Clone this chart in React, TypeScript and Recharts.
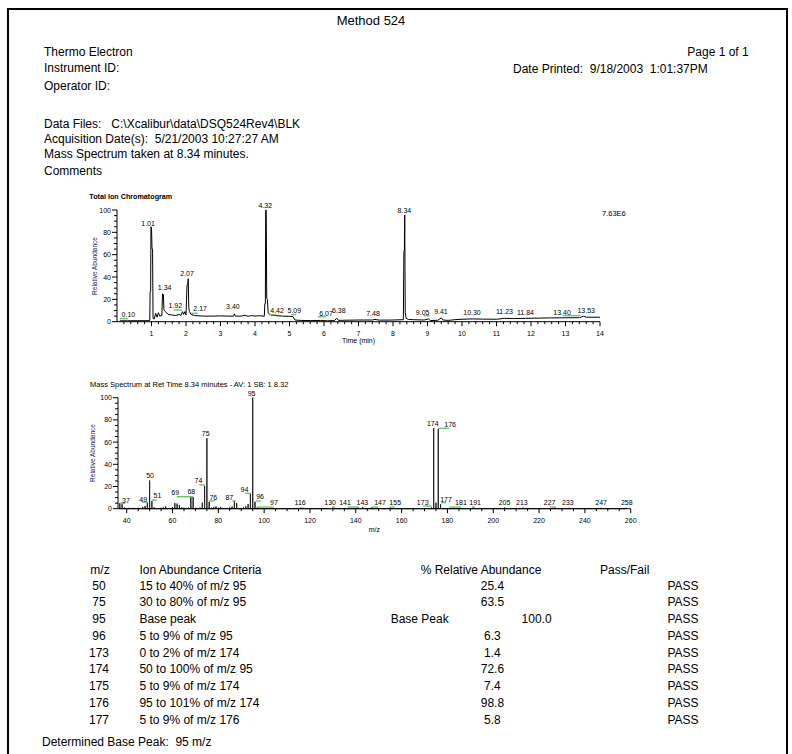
import React from 'react';
import { ComposedChart, Line, Scatter, XAxis, YAxis, ReferenceLine } from 'recharts';

const FONT = '"Liberation Sans", Arial, Helvetica, sans-serif';
const GREEN = '#6cc46c';
const NAVY = '#1b1b6b';

// ---- Total Ion Chromatogram (relative abundance vs time) ----
const ticTime = [
  0.08, 0.3, 0.6, 0.9, 0.95, 0.96, 0.975, 0.985, 1.0, 1.015, 1.03, 1.045, 1.08, 1.12, 1.16, 1.2, 1.24, 1.3,
  1.32, 1.345, 1.36, 1.4, 1.45, 1.5, 1.6, 1.7, 1.8, 1.85, 1.9, 1.93, 1.97, 2.0, 2.03, 2.05, 2.065, 2.08, 2.1,
  2.15, 2.25, 2.5, 2.8, 3.0, 3.2, 3.38, 3.4, 3.43, 3.6, 3.7, 3.8, 3.9, 4.0, 4.1, 4.27, 4.285, 4.3, 4.31,
  4.325, 4.34, 4.36, 4.38, 4.45, 4.6, 4.8, 5.0, 5.1, 5.16, 5.3, 5.6, 5.9, 6.1, 6.3, 6.37, 6.42, 6.6, 7.0,
  7.4, 7.48, 7.6, 8.0, 8.3, 8.315, 8.33, 8.34, 8.355, 8.38, 8.45, 8.6, 8.9, 9.03, 9.08, 9.3, 9.4, 9.45,
  9.6, 9.8, 10.0, 10.3, 10.6, 11.0, 11.23, 11.5, 11.84, 12.2, 12.6, 13.0, 13.4, 13.53, 13.6, 14.0,
];
const ticAbundance = [
  0.8, 0.8, 0.9, 0.9, 1.2, 27, 27, 85, 84, 65, 65, 3, 2.5, 7.5, 4, 8, 5, 5.5,
  25, 24, 11, 9, 7.5, 6.5, 6, 5.5, 6.5, 5.5, 9, 6.5, 9, 6, 33, 33, 38.5, 13, 9,
  6.5, 5.5, 5, 5, 5.2, 5, 5, 7, 5, 5, 5.8, 4.8, 5.5, 5, 5.3, 5, 16, 16, 99.5,
  100, 21, 20, 8, 6, 5.5, 5, 4.8, 4.5, 1.5, 1.2, 1, 1.1, 0.8, 1, 3, 1.2, 1.3, 1.5,
  1.5, 2, 1.4, 1.5, 1.8, 63, 63, 95.5, 8, 3, 2, 1.8, 1.5, 2.5, 1, 1.3, 3.5, 1.5,
  1.2, 1.8, 2.2, 2.5, 2.3, 2.2, 3, 2.8, 3, 3.2, 3.4, 3.5, 3.6, 5, 4, 4,
];
const ticPeakText = [
  '0.10', '1.01', '1.34', '1.92', '2.07', '2.17', '3.40', '4.32', '4.42', '5.09', '6.07',
  '6.38', '7.48', '8.34', '9.05', '9.41', '10.30', '11.23', '11.84', '13.40', '13.53',
];
const ticPeakTime = [
  0.33, 0.9, 1.38, 1.69, 2.03, 2.41, 3.36, 4.3, 4.64, 5.14, 6.06,
  6.43, 7.42, 8.33, 8.86, 9.39, 10.29, 11.23, 11.84, 12.9, 13.6,
];
const ticPeakLevel = [
  2.4, 83.5, 26.3, 9.8, 38.5, 7.5, 8.9, 99.5, 5.3, 5.3, 3.0,
  5.3, 3.0, 95, 3.5, 4.5, 4.0, 4.5, 4.0, 4.0, 5.3,
];
// green integration marks: [from, to, level]
const ticMarks = [
  [0.08, 0.32, 2.7], [1.64, 1.89, 10.5], [2.15, 2.34, 7.5], [4.4, 4.61, 6.3],
  [5.05, 5.19, 6.3], [5.82, 6.06, 4.5], [8.89, 9.06, 5.4], [12.92, 13.42, 5.4],
];
const ticTickLabels = [1, 2, 3, 4, 5, 6, 7, 8, 9, 10, 11, 12, 13, 14];

// ---- Mass spectrum at 8.34 min ----
const msMz = [
  37, 38, 39, 41, 42, 43, 44, 45, 47, 48, 49, 50, 51, 52, 53, 55, 56, 57, 58, 60, 61, 62, 63, 64, 65,
  67, 68, 69, 70, 72, 73, 74, 75, 76, 77, 78, 79, 80, 81, 82, 84, 85, 86, 87, 88, 89, 91, 92, 93, 94,
  95, 96, 97, 98, 101, 104, 106, 109, 113, 116, 117, 118, 124, 128, 130, 131, 137, 139, 141, 142, 143,
  144, 147, 149, 151, 155, 156, 160, 163, 166, 170, 173, 174, 175, 176, 177, 178, 181, 183, 186, 191,
  193, 196, 200, 205, 210, 213, 216, 223, 227, 228, 229, 233, 236, 240, 243, 247, 248, 250, 253, 256, 258,
];
const msAbundance = [
  5, 4, 1.2, 0.8, 0.5, 0.7, 0.6, 0.8, 1.5, 2.5, 5.5, 25.4, 6.8, 1.2, 0.6, 0.8, 1.2, 2.2, 0.6, 1.5, 5, 4.6, 3.2, 1.2, 0.8,
  1, 11, 10.5, 0.7, 1, 5.5, 20.5, 63.5, 6.2, 1, 1.6, 2.2, 0.8, 1.6, 0.7, 0.6, 1.2, 2, 7.5, 5, 0.6, 1.2, 2.2, 4.2, 13.3,
  100, 6.3, 1.2, 0.5, 0.5, 0.8, 0.4, 0.5, 0.4, 1, 0.8, 0.5, 0.5, 0.4, 1.2, 0.5, 0.5, 0.6, 1.2, 0.6, 1.5,
  0.5, 1.2, 0.5, 0.4, 1, 0.5, 0.5, 0.4, 0.6, 0.4, 1.0, 72.6, 5.4, 71.7, 4.2, 0.5, 0.8, 0.4, 0.4, 1,
  0.3, 0.4, 0.3, 1, 0.4, 1, 0.4, 0.3, 1, 0.5, 0.5, 0.8, 0.4, 0.4, 0.4, 0.8, 0.5, 0.5, 0.4, 0.4, 0.8,
];
const msPeakText = [
  '37', '49', '50', '51', '69', '68', '74', '75', '76', '87', '94', '95', '96', '97', '116', '130',
  '141', '143', '147', '155', '173', '174', '176', '177', '181', '191', '205', '213', '227', '233', '247', '258',
];
const msPeakMz = [
  39.7, 47.2, 50.2, 53.4, 61.2, 68.2, 71.3, 74.5, 77.8, 84.8, 91.4, 94.5, 98.2, 104.3, 115.7, 128.8,
  135.3, 142.9, 150.6, 157.2, 169.2, 173.6, 181.2, 179.4, 185.9, 192.1, 204.9, 212.5, 224.6, 232.6, 247.1, 258.3,
];
const msPeakLevel = [
  3.3, 4.2, 25.5, 7.2, 9.9, 10.8, 20.5, 63.5, 5.8, 6.0, 13, 99.5, 6.3, 1.3, 1.0, 1.0,
  1.0, 1.3, 1.0, 1.0, 1.5, 72.5, 71.5, 4.1, 1.0, 1.0, 1.0, 1.0, 1.0, 1.0, 1.0, 1.0,
];
const msMarks = [
  [37, 39.3, 4.9], [46.5, 49, 6], [50.9, 53.1, 7.8], [61.8, 69, 10.8], [71.6, 74.2, 21.4],
  [75.9, 78.5, 7], [86.1, 87.3, 7], [91.7, 94.2, 13.9], [96.4, 98.5, 7], [97, 104, 1.5],
  [130, 131, 1.5], [136.5, 141.1, 1.5], [147, 149.7, 1.5], [155, 157, 1.5], [169.4, 173.2, 2.4],
  [176, 180.7, 72.4], [177.3, 179.4, 5.4], [181, 185.9, 1.5], [190.8, 192.1, 1.5], [224.8, 227.3, 1.5],
];
const msTickLabels = [40, 60, 80, 100, 120, 140, 160, 180, 200, 220, 240, 260];

// ---- ion abundance criteria ----
const critMz = ['50', '75', '95', '96', '173', '174', '175', '176', '177'];
const critText = [
  '15 to 40% of m/z 95', '30 to 80% of m/z 95', 'Base peak', '5 to 9% of m/z 95', '0 to 2% of m/z 174',
  '50 to 100% of m/z 95', '5 to 9% of m/z 174', '95 to 101% of m/z 174', '5 to 9% of m/z 176',
];
const critValue = ['25.4', '63.5', '100.0', '6.3', '1.4', '72.6', '7.4', '98.8', '5.8'];
const critResult = ['PASS', 'PASS', 'PASS', 'PASS', 'PASS', 'PASS', 'PASS', 'PASS', 'PASS'];

const ticData = ticTime.map((t, i) => ({ x: t, y: ticAbundance[i] }));
const ticLabels = ticPeakText.map((text, i) => ({ x: ticPeakTime[i], y: ticPeakLevel[i], text }));
// each stick goes baseline -> top -> baseline
const msData = msMz.flatMap((m, i) => [
  { x: m, y: 0 },
  { x: m, y: msAbundance[i] },
  { x: m, y: 0 },
]);
const msLabels = msPeakText.map((text, i) => ({ x: msPeakMz[i], y: msPeakLevel[i], text }));

const yTicks = Array.from({ length: 21 }, (_, i) => i * 5);
const ticTicks = Array.from({ length: 70 }, (_, i) => +((i + 1) * 0.2).toFixed(1));
const msTicks = Array.from({ length: 45 }, (_, i) => 40 + i * 5);

function AbundanceTick(props: any) {
  const { x, y, payload } = props;
  const v = payload.value;
  const major = v % 20 === 0;
  return (
    <g>
      <line x1={x - (major ? 5 : 3)} x2={x} y1={y} y2={y} stroke="#000" strokeWidth={1} />
      {major && (
        <text x={x - 6} y={y + 2.5} textAnchor="end" fontSize={7} fontFamily={FONT} fill="#000">
          {v}
        </text>
      )}
    </g>
  );
}

function makeXTick(labels: number[]) {
  return (props: any) => {
    const { x, y, payload } = props;
    const v = payload.value;
    const major = labels.some((l) => Math.abs(l - v) < 1e-6);
    return (
      <g>
        <line x1={x} x2={x} y1={y} y2={y + (major ? 4.5 : 2.5)} stroke="#000" strokeWidth={1} />
        {major && (
          <text x={x} y={y + 14} textAnchor="middle" fontSize={7} fontFamily={FONT} fill="#000">
            {Math.round(v)}
          </text>
        )}
      </g>
    );
  };
}

const PeakLabel = (p: any) => (
  <text x={p.cx} y={p.cy - 2.5} textAnchor="middle" fontSize={7} fontFamily={FONT} fill="#000">
    {p.payload.text}
  </text>
);

function Txt({ x, y, size = 12, anchor = 'start', color = '#000', bold = false, children }: any) {
  const shift = anchor === 'middle' ? 'translateX(-50%)' : anchor === 'end' ? 'translateX(-100%)' : undefined;
  return (
    <div
      style={{
        position: 'absolute',
        left: x,
        top: y - size * 0.62,
        fontSize: size,
        fontWeight: bold ? 'bold' : 'normal',
        lineHeight: `${size * 1.2}px`,
        whiteSpace: 'pre',
        transform: shift,
        color,
        fontFamily: FONT,
      }}
    >
      {children}
    </div>
  );
}

function VTxt({ x, y, children }: any) {
  return (
    <div
      style={{
        position: 'absolute',
        left: x,
        top: y,
        fontSize: 6.5,
        lineHeight: '8px',
        whiteSpace: 'nowrap',
        color: NAVY,
        fontFamily: FONT,
        transform: 'translate(-50%, -50%) rotate(-90deg)',
      }}
    >
      {children}
    </div>
  );
}

function Chromatogram() {
  return (
    <div style={{ position: 'absolute', left: 0, top: 190 }}>
      <ComposedChart width={792} height={170} margin={{ top: 20, right: 192, bottom: 18.3, left: 87 }}>
        <XAxis
          dataKey="x"
          type="number"
          domain={[0, 14]}
          ticks={ticTicks}
          interval={0}
          tick={makeXTick(ticTickLabels)}
          tickLine={false}
          tickSize={0}
          tickMargin={0}
          height={20}
          axisLine={{ stroke: '#000' }}
        />
        <YAxis
          type="number"
          domain={[0, 100]}
          ticks={yTicks}
          interval={0}
          tick={AbundanceTick}
          tickLine={false}
          tickSize={0}
          tickMargin={0}
          width={30}
          axisLine={{ stroke: '#000' }}
        />
        <Line
          data={ticData}
          dataKey="y"
          type="linear"
          stroke="#000"
          strokeWidth={1}
          dot={false}
          isAnimationActive={false}
        />
        {ticMarks.map(([a, b, h], i) => (
          <ReferenceLine key={i} segment={[{ x: a, y: h }, { x: b, y: h }]} stroke={GREEN} strokeWidth={1.4} />
        ))}
        <Scatter data={ticLabels} dataKey="y" shape={PeakLabel} isAnimationActive={false} />
      </ComposedChart>
    </div>
  );
}

function MassSpectrum() {
  return (
    <div style={{ position: 'absolute', left: 0, top: 380 }}>
      <ComposedChart width={792} height={160} margin={{ top: 17.7, right: 161.3, bottom: 11.3, left: 88 }}>
        <XAxis
          dataKey="x"
          type="number"
          domain={[36.2, 260]}
          ticks={msTicks}
          interval={0}
          tick={makeXTick(msTickLabels)}
          tickLine={false}
          tickSize={0}
          tickMargin={0}
          height={20}
          axisLine={{ stroke: '#000' }}
        />
        <YAxis
          type="number"
          domain={[0, 100]}
          ticks={yTicks}
          interval={0}
          tick={AbundanceTick}
          tickLine={false}
          tickSize={0}
          tickMargin={0}
          width={30}
          axisLine={{ stroke: '#000' }}
        />
        <Line
          data={msData}
          dataKey="y"
          type="linear"
          stroke="#222"
          strokeWidth={1}
          dot={false}
          isAnimationActive={false}
        />
        {msMarks.map(([a, b, h], i) => (
          <ReferenceLine key={i} segment={[{ x: a, y: h }, { x: b, y: h }]} stroke={GREEN} strokeWidth={1.4} />
        ))}
        <Scatter data={msLabels} dataKey="y" shape={PeakLabel} isAnimationActive={false} />
      </ComposedChart>
    </div>
  );
}

export default function App() {
  const rowY = (i: number) => 586 + i * 16.75;
  return (
    <div style={{ position: 'relative', width: 792, height: 754, background: '#fff', overflow: 'hidden' }}>
      <style>{'body{margin:0;}'}</style>
      {/* page frame */}
      <div style={{ position: 'absolute', left: 7, top: 8, width: 2, height: 746, background: '#000' }} />
      <div style={{ position: 'absolute', left: 7, top: 8, width: 781, height: 2, background: '#000' }} />
      <div style={{ position: 'absolute', left: 786, top: 8, width: 2, height: 746, background: '#000' }} />

      <Txt x={371} y={20.7} size={13} anchor="middle">Method 524</Txt>
      <Txt x={44} y={52.7}>Thermo Electron</Txt>
      <Txt x={44} y={68.5}>Instrument ID:</Txt>
      <Txt x={44} y={86}>Operator ID:</Txt>
      <Txt x={748.7} y={52} anchor="end">Page 1 of 1</Txt>
      <Txt x={513} y={69}>Date Printed:  9/18/2003  1:01:37PM</Txt>
      <Txt x={44} y={124}>{'Data Files:   C:\\Xcalibur\\data\\DSQ524Rev4\\BLK'}</Txt>
      <Txt x={44} y={139}>Acquisition Date(s):  5/21/2003 10:27:27 AM</Txt>
      <Txt x={44} y={154}>Mass Spectrum taken at 8.34 minutes.</Txt>
      <Txt x={44} y={171.7}>Comments</Txt>

      <Chromatogram />
      <Txt x={89.3} y={197} size={7.2} bold>Total Ion Chromatogram</Txt>
      <Txt x={602} y={213.3} size={7.5}>7.63E6</Txt>
      <VTxt x={94.5} y={266}>Relative Abundance</VTxt>
      <Txt x={358.5} y={341} size={7} anchor="middle">Time (min)</Txt>

      <MassSpectrum />
      <Txt x={90} y={384.3} size={7.5}>Mass Spectrum at Ret Time 8.34 minutes - AV: 1 SB: 1 8.32</Txt>
      <VTxt x={93} y={453}>Relative Abundance</VTxt>
      <Txt x={374.3} y={530} size={7} anchor="middle">m/z</Txt>

      <Txt x={100} y={570.7} anchor="middle">m/z</Txt>
      <Txt x={139.4} y={570.7}>Ion Abundance Criteria</Txt>
      <Txt x={481} y={570.7} anchor="middle">% Relative Abundance</Txt>
      <Txt x={600} y={570.7}>Pass/Fail</Txt>
      {critMz.map((m, i) => (
        <React.Fragment key={m}>
          <Txt x={99} y={rowY(i)} anchor="middle">{m}</Txt>
          <Txt x={139.4} y={rowY(i)}>{critText[i]}</Txt>
          {critText[i] === 'Base peak' ? (
            <>
              <Txt x={419.7} y={rowY(i)} anchor="middle">Base Peak</Txt>
              <Txt x={536.6} y={rowY(i)} anchor="middle">{critValue[i]}</Txt>
            </>
          ) : (
            <Txt x={492.4} y={rowY(i)} anchor="middle">{critValue[i]}</Txt>
          )}
          <Txt x={698.5} y={rowY(i)} anchor="end">{critResult[i]}</Txt>
        </React.Fragment>
      ))}
      <Txt x={42} y={742.7}>Determined Base Peak:  95 m/z</Txt>
    </div>
  );
}
